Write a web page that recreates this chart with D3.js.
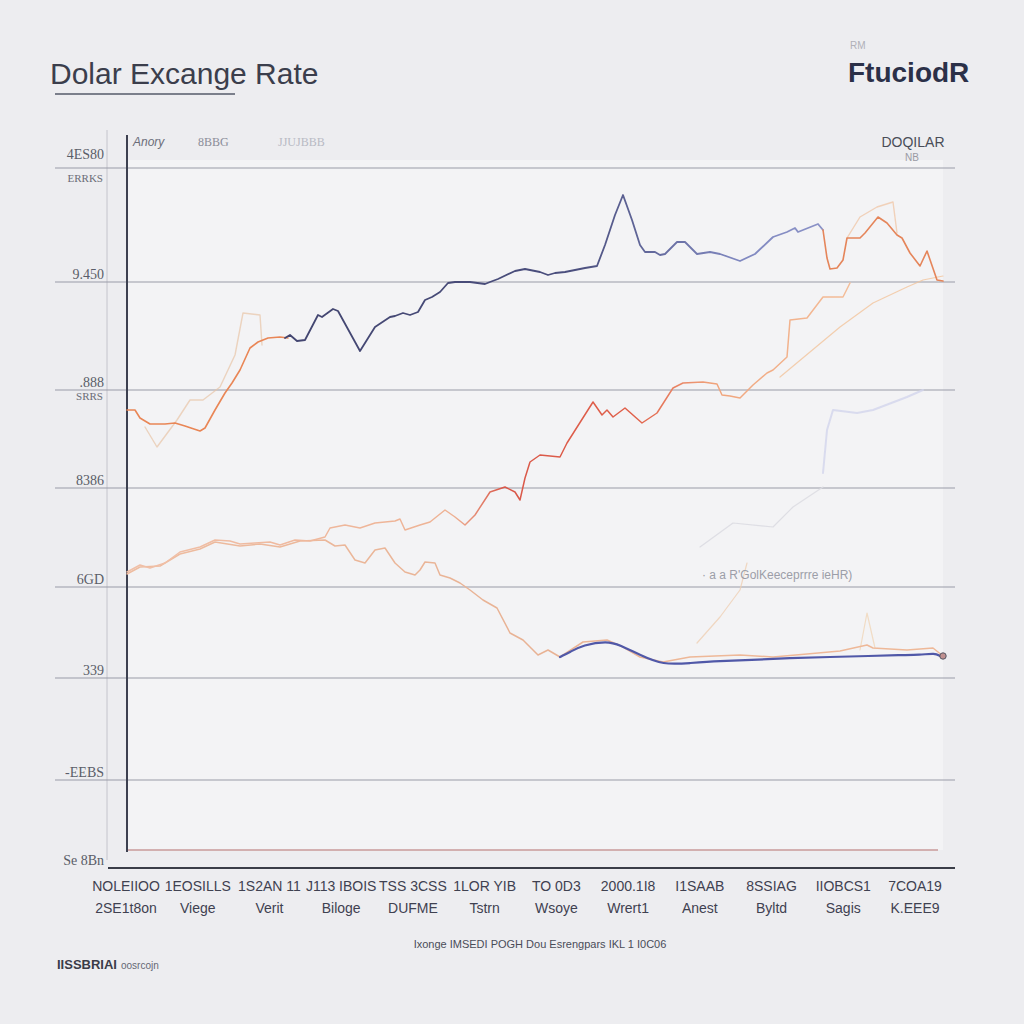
<!DOCTYPE html>
<html><head><meta charset="utf-8">
<script src="https://cdn.jsdelivr.net/npm/d3@7"></script>
<style>html,body{margin:0;padding:0;background:#ededf0;}svg{display:block;}</style>
</head><body>
<script>
// ---------- data ----------
const title = "Dolar Excange Rate";
const brand = "FtuciodR";
const brandSmall = "RM";
const cornerLabel = ["DOQILAR", "NB"];
const headerLabels = ["Anory", "8BBG", "JJUJBBB"];
const gridValues = [88, 190, 281, 380, 478, 586, 700];
const yTickValues = [0, 88, 190, 281, 380, 478, 586, 700];
const yTickLabels = ["Se 8Bn", "-EEBS", "339", "6GD", "8386", ".888", "9.450", "4ES80"];
const ySubLabels = {700: "ERRKS", 478: "SRRS"};
const categories = ["c1","c2","c3","c4","c5","c6","c7","c8","c9","c10","c11","c12"];
const xRow1 = ["NOLEIIOO","1EOSILLS","1S2AN 11","J113 IBOIS","TSS 3CSS","1LOR YIB","TO 0D3","2000.1I8","I1SAAB","8SSIAG","IIOBCS1","7COA19"];
const xRow2 = ["2SE1t8on","Viege","Verit","Biloge","DUFME","Tstrn","Wsoye","Wrert1","Anest","Byltd","Sagis","K.EEE9"];
const noteLabel = "R'GolKeeceprrre ieHR)";
const footer = "Ixonge IMSEDI POGH Dou Esrengpars IKL 1 I0C06";
const sourceBold = "IISSBRIAI";
const sourceRest = "oosrcojn";

const orangeStart = [[0,458],[8,458],[13,450],[23,444],[38,444],[48,445],[58,442],[73,437],[78,440],[88,458],[98,475],[105,485],[113,498],[123,520],[131,526],[141,530],[153,531],[161,530]];
const navyTop = [[158,530],[163,533],[170,527],[178,528],[191,553],[195,551],[206,559],[211,557],[233,517],[248,541],[263,551],[268,552],[276,555],[283,553],[291,556],[298,568],[305,571],[313,576],[321,585],[328,586],[343,586],[358,584],[363,586],[371,589],[388,597],[398,599],[413,596],[421,593],[428,595],[438,596],[448,598],[458,600],[470,602],[478,623],[488,653],[496,673],[505,648],[513,623],[518,616],[528,616],[533,613],[538,614],[550,626],[558,626],[570,614],[583,616],[593,614],[613,607],[628,614],[646,631],[660,636],[668,640],[671,636],[681,640],[691,644],[696,638]];
const orangeEnd = [[696,638],[700,610],[703,599],[710,600],[716,608],[720,630],[733,630],[738,635],[751,651],[760,645],[770,633],[775,630],[783,615],[793,602],[800,617],[810,588],[816,587]];
const redRise = [[0,296],[13,303],[23,300],[38,305],[53,316],[73,321],[88,328],[103,327],[113,324],[128,325],[143,326],[153,323],[168,328],[183,327],[198,331],[203,340],[218,343],[233,340],[248,345],[268,347],[273,349],[278,338],[293,343],[303,346],[318,358],[328,351],[338,343],[348,353],[363,376],[378,381],[388,376],[393,368],[398,390],[403,406],[413,413],[433,411],[440,425],[466,466],[475,453],[480,458],[486,451],[498,460],[515,445],[530,455],[546,480],[556,485],[576,486],[590,484],[595,473],[603,472],[613,470],[626,483],[640,495],[646,498],[660,511],[663,548],[680,550],[696,571],[716,571],[723,585]];
const peachFall = [[0,294],[13,301],[33,302],[53,314],[73,319],[88,326],[113,322],[133,324],[153,321],[173,327],[198,328],[208,322],[218,323],[228,308],[238,305],[248,318],[258,320],[268,305],[278,296],[288,293],[293,298],[298,306],[308,305],[313,293],[323,290],[333,285],[343,278],[356,268],[370,260],[383,235],[396,228],[411,213],[421,218],[433,211],[456,226],[480,228],[496,221],[513,211],[536,206],[563,211],[613,213],[646,211],[680,214],[713,217],[740,223],[746,220],[780,218],[806,220],[816,212]];
const navyBottom = [[433,211],[443,216],[456,223],[480,227],[493,223],[513,213],[536,203],[563,205],[593,207],[623,208],[663,210],[703,211],[743,212],[773,213],[793,213],[808,215],[813,212]];
const faintPeachLeft = [[18,441],[30,421],[50,448],[63,468],[76,468],[93,481],[108,513],[116,555],[133,553],[135,523]];
const faintPeachRight = [[720,630],[733,651],[750,661],[766,666],[770,635]];
const faintDiagonal = [[653,491],[713,541],[746,565],[780,581],[796,588],[816,592]];
const faintRising = [[570,225],[593,251],[613,278],[620,305]];
const faintSpike = [[733,218],[740,255],[748,220]];
const faintLavender = [[696,395],[700,438],[706,458],[730,455],[746,458],[780,471],[796,478]];
const faintGray = [[573,321],[606,345],[646,341],[666,361],[696,381]];
const endPoint = [[816,212]];

// ---------- drawing ----------
const W = 1024, H = 1024;
const svg = d3.select("body").append("svg").attr("width", W).attr("height", H);
const defs = svg.append("defs");

svg.append("rect").attr("width", W).attr("height", H).attr("fill", "#ededf0");
svg.append("rect").attr("x", 128).attr("y", 160).attr("width", 815).attr("height", 690).attr("fill", "#f3f3f5");

const x = d3.scaleLinear().domain([0, 816]).range([127, 943]);
const y = d3.scaleLinear().domain([0, 700]).range([868, 168]);
const xc = d3.scalePoint().domain(categories).range([126, 915]);

// title
svg.append("text").attr("x", 50).attr("y", 84).text(title)
  .attr("font-family", "Liberation Sans, Arial, sans-serif").attr("font-size", 30)
  .attr("fill", "#3b3e4c").attr("letter-spacing", 0);
svg.append("line").attr("x1", 55).attr("x2", 235).attr("y1", 94).attr("y2", 94).attr("stroke", "#555a6a").attr("stroke-width", 1.5);

svg.append("text").attr("x", 848).attr("y", 82).text(brand)
  .attr("font-family", "Liberation Sans, Arial, sans-serif").attr("font-size", 28).attr("font-weight", "bold")
  .attr("fill", "#2b3048").attr("letter-spacing", 0);
svg.append("text").attr("x", 850).attr("y", 49).text(brandSmall)
  .attr("font-family", "Liberation Sans, sans-serif").attr("font-size", 10).attr("fill", "#b0b0b8");
svg.append("text").attr("x", 913).attr("y", 147).text(cornerLabel[0]).attr("text-anchor", "middle")
  .attr("font-family", "Liberation Sans, sans-serif").attr("font-size", 14).attr("fill", "#4a4d58");
svg.append("text").attr("x", 912).attr("y", 161).text(cornerLabel[1]).attr("text-anchor", "middle")
  .attr("font-family", "Liberation Sans, sans-serif").attr("font-size", 10).attr("fill", "#9a9aa4");

// header labels inside top
const headerX = [133, 198, 278];
const headerCol = ["#6a6c78", "#8a8c98", "#b8bac4"];
headerLabels.forEach((t, i) => {
  svg.append("text").attr("x", headerX[i]).attr("y", 146).text(t)
    .attr("font-family", i === 0 ? "Liberation Sans, sans-serif" : "Liberation Serif, serif")
    .attr("font-style", i === 0 ? "italic" : "normal")
    .attr("font-size", 12).attr("fill", headerCol[i]);
});

// light secondary vertical line
svg.append("line").attr("x1", 107).attr("x2", 107).attr("y1", 130).attr("y2", 860).attr("stroke", "#c4c4cc").attr("stroke-width", 1);

// gridlines
svg.append("g").selectAll("line").data(gridValues).join("line")
  .attr("x1", 55).attr("x2", 955).attr("y1", d => y(d)).attr("y2", d => y(d))
  .attr("stroke", "#9a9ca8").attr("stroke-width", 1.2);

// y labels
const yAxis = d3.axisLeft(y).tickValues(yTickValues).tickSize(0).tickPadding(0)
  .tickFormat((d, i) => yTickLabels[i]);
const gy = svg.append("g").attr("transform", "translate(104,-8)").call(yAxis);
gy.select(".domain").remove();
gy.selectAll("text").attr("font-family", "Liberation Serif, serif").attr("font-size", 14).attr("fill", "#5a5d68");
gy.selectAll(".tick").filter(d => d === 700).attr("transform", `translate(0,${y(700) - 5})`);
Object.keys(ySubLabels).forEach(k => {
  svg.append("text").attr("x", 103).attr("y", y(+k) + (+k === 700 ? 14 : 10)).attr("text-anchor", "end").text(ySubLabels[k])
    .attr("font-family", "Liberation Serif, serif").attr("font-size", 11).attr("fill", "#6a6c76");
});

// axes lines
svg.append("line").attr("x1", 127).attr("x2", 127).attr("y1", 135).attr("y2", 852).attr("stroke", "#3d4050").attr("stroke-width", 2);
svg.append("line").attr("x1", 128).attr("x2", 938).attr("y1", 850).attr("y2", 850).attr("stroke", "#c99a9a").attr("stroke-width", 1.5);
svg.append("line").attr("x1", 108).attr("x2", 955).attr("y1", 868).attr("y2", 868).attr("stroke", "#3a3d48").attr("stroke-width", 1.8);

// gradients
function grad(id, stops) {
  const g = defs.append("linearGradient").attr("id", id).attr("gradientUnits", "userSpaceOnUse")
    .attr("x1", x(0)).attr("x2", x(816)).attr("y1", 0).attr("y2", 0);
  stops.forEach(s => g.append("stop").attr("offset", s[0]).attr("stop-color", s[1]));
}
grad("navyGrad", [[0, "#3e4068"], [0.55, "#4b4f7e"], [0.75, "#8088c0"], [1, "#9aa0d0"]]);
grad("redGrad", [[0, "#f0c0a8"], [0.4, "#eeb294"], [0.46, "#d9584a"], [0.62, "#e0604a"], [0.72, "#f0a47c"], [1, "#f6cfae"]]);
grad("peachGrad", [[0, "#eebca0"], [0.5, "#e8b294"], [0.7, "#eeb898"], [1, "#eeb898"]]);

const line = d3.line().x(d => x(d[0])).y(d => y(d[1])).curve(d3.curveLinear);
const smooth = d3.line().x(d => x(d[0])).y(d => y(d[1])).curve(d3.curveBasis);
function draw(data, stroke, width, opacity, gen) {
  svg.append("path").datum(data).attr("d", gen || line).attr("fill", "none")
    .attr("stroke", stroke).attr("stroke-width", width).attr("stroke-opacity", opacity)
    .attr("stroke-linejoin", "round").attr("stroke-linecap", "round");
}

draw(faintPeachLeft, "#e8c4a6", 1.4, 0.7);
draw(faintPeachRight, "#f0c2a0", 1.4, 0.7);
draw(faintDiagonal, "#f2c49c", 1.2, 0.8);
draw(faintRising, "#efcfb4", 1.2, 0.8);
draw(faintSpike, "#f0d6b8", 1.2, 0.8);
draw(faintLavender, "#d2d4ec", 2, 0.8);
draw(faintGray, "#dcdce2", 1.2, 0.9);

draw(peachFall, "url(#peachGrad)", 1.5, 1);
draw(redRise, "url(#redGrad)", 1.5, 1);
draw(navyBottom, "#5058a8", 2.2, 1, smooth);
draw(orangeStart, "#e98656", 1.6, 1);
draw(navyTop, "url(#navyGrad)", 1.8, 1);
draw(orangeEnd, "#e5855a", 1.6, 1);

svg.append("g").selectAll("circle").data(endPoint).join("circle")
  .attr("cx", d => x(d[0])).attr("cy", d => y(d[1])).attr("r", 3.2)
  .attr("fill", "#c09090").attr("stroke", "#555866").attr("stroke-width", 1);

// note label
svg.append("text").attr("x", 702).attr("y", 579).text("· a a  " + noteLabel)
  .attr("font-family", "Liberation Sans Narrow, Liberation Sans, sans-serif").attr("font-size", 12).attr("fill", "#9c9ea8");

// x labels
const xg = svg.append("g");
categories.forEach((c, i) => {
  xg.append("text").attr("x", xc(c)).attr("y", 891).attr("text-anchor", "middle").text(xRow1[i])
    .attr("font-family", "Liberation Sans Narrow, Liberation Sans, sans-serif").attr("font-size", 14).attr("fill", "#3f4150");
  xg.append("text").attr("x", xc(c)).attr("y", 913).attr("text-anchor", "middle").text(xRow2[i])
    .attr("font-family", "Liberation Sans Narrow, Liberation Sans, sans-serif").attr("font-size", 14).attr("fill", "#3f4150");
});

// footer
svg.append("text").attr("x", 540).attr("y", 948).attr("text-anchor", "middle").text(footer)
  .attr("font-family", "Liberation Sans Narrow, Liberation Sans, sans-serif").attr("font-size", 11).attr("fill", "#4a4c58");
const src = svg.append("text").attr("x", 57).attr("y", 969)
  .attr("font-family", "Liberation Sans Narrow, Liberation Sans, sans-serif").attr("font-size", 13).attr("fill", "#3a3c48");
src.append("tspan").attr("font-weight", "bold").text(sourceBold);
src.append("tspan").attr("font-size", 10).attr("fill", "#666874").attr("dx", 4).text(sourceRest);
</script>
</body></html>
